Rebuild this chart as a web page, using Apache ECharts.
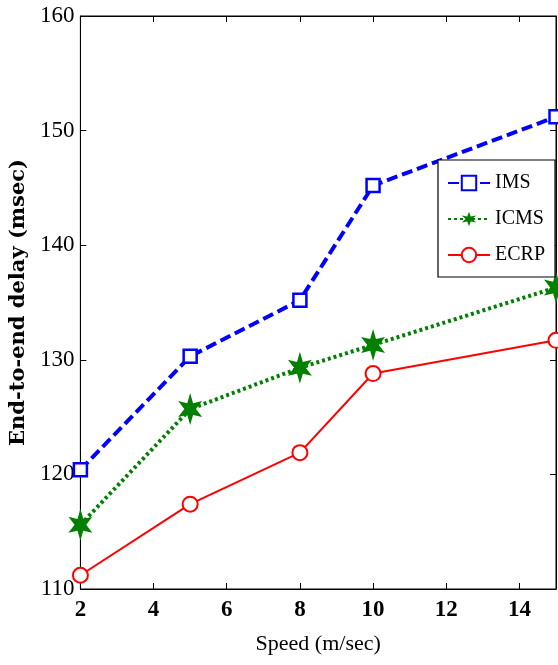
<!DOCTYPE html>
<html>
<head>
<meta charset="utf-8">
<script src="https://cdn.jsdelivr.net/npm/echarts@6/dist/echarts.min.js"></script>
<style>html,body{margin:0;padding:0;background:#fff;}#c{width:558px;height:665px;}</style>
</head>
<body>
<div id="c"></div>
<script>
const speeds = [2, 5, 8, 10, 15];
const imsDelay = [120.4, 130.3, 135.2, 145.2, 151.2];
const icmsDelay = [115.6, 125.7, 129.3, 131.3, 136.3];
const ecrpDelay = [111.2, 117.4, 121.9, 128.8, 131.7];
const xTicks = [2, 4, 6, 8, 10, 12, 14];
const yTicks = [110, 120, 130, 140, 150, 160];

function pairs(xs, ys) { return xs.map((x, i) => [x, ys[i]]); }

// hexagram symbol shape
function hexPath() {
  let p = '';
  for (let k = 0; k < 12; k++) {
    const a = (-90 + k * 30) * Math.PI / 180;
    const r = k % 2 === 0 ? 1 : 0.42;
    const x = (r * Math.cos(a) * 0.75).toFixed(3), y = (r * Math.sin(a)).toFixed(3);
    p += (k === 0 ? 'M' : 'L') + x + ' ' + y + ' ';
  }
  return 'path://' + p + 'Z';
}

const font = 'Liberation Serif';
const chart = echarts.init(document.getElementById('c'), null, {renderer: 'canvas'});
chart.setOption({
  animation: false,
  backgroundColor: '#fff',
  grid: {left: 79, right: 2, top: 16, bottom: 76, show: true, borderColor: '#000', borderWidth: 1},
  xAxis: [{
    type: 'value', min: 2, max: 15, interval: 2,
    name: 'Speed (m/sec)', nameLocation: 'middle', nameGap: 44,
    nameTextStyle: {fontFamily: font, fontSize: 22, color: '#000'},
    axisLine: {lineStyle: {color: '#000'}},
    axisTick: {inside: true, length: 6, lineStyle: {color: '#000'}},
    axisLabel: {fontFamily: font, fontSize: 23, fontWeight: 'bold', color: '#000', margin: 10, showMaxLabel: false,
      formatter: v => xTicks.includes(v) ? String(v) : ''},
    splitLine: {show: false}
  }, {
    type: 'value', min: 2, max: 15, interval: 2, position: 'top',
    axisLine: {lineStyle: {color: '#000'}},
    axisTick: {inside: true, length: 6, lineStyle: {color: '#000'}},
    axisLabel: {show: false}, splitLine: {show: false}
  }],
  yAxis: [{
    type: 'value', min: 110, max: 160, interval: 10,
    name: 'End-to-end delay (msec)', nameLocation: 'middle', nameGap: 50,
    nameTextStyle: {fontFamily: 'DejaVu Serif', fontSize: 21, fontWeight: 'bold', color: '#000'},
    axisLine: {lineStyle: {color: '#000'}},
    axisTick: {inside: true, length: 6, lineStyle: {color: '#000'}},
    axisLabel: {fontFamily: font, fontSize: 23, color: '#000', margin: 6,
      formatter: v => yTicks.includes(v) ? String(v) : ''},
    splitLine: {show: false}
  }, {
    type: 'value', min: 110, max: 160, interval: 10, position: 'right',
    axisLine: {lineStyle: {color: '#000'}},
    axisTick: {inside: true, length: 6, lineStyle: {color: '#000'}},
    axisLabel: {show: false}, splitLine: {show: false}
  }],
  legend: {
    orient: 'vertical', left: 438, top: 160,
    backgroundColor: '#fff', borderColor: '#000', borderWidth: 1.2,
    padding: [13, 10, 12, 9], itemGap: 16, itemWidth: 42, itemHeight: 18,
    textStyle: {fontFamily: font, fontSize: 20, color: '#000'},
    data: ['IMS', 'ICMS', 'ECRP']
  },
  series: [{
    name: 'IMS', type: 'line', data: pairs(speeds, imsDelay),
    symbol: 'rect', symbolSize: 13, showSymbol: true,
    lineStyle: {color: '#0000ff', width: 4, type: [11, 5]},
    itemStyle: {color: '#fff', borderColor: '#0000ff', borderWidth: 2.5},
    emphasis: {disabled: true},
    clip: false
  }, {
    name: 'ICMS', type: 'line', data: pairs(speeds, icmsDelay),
    symbol: hexPath(), symbolSize: [24, 32],
    lineStyle: {color: '#008000', width: 4, type: [3, 3]},
    itemStyle: {color: '#008000'},
    emphasis: {disabled: true},
    clip: false
  }, {
    name: 'ECRP', type: 'line', data: pairs(speeds, ecrpDelay),
    symbol: 'circle', symbolSize: 15,
    lineStyle: {color: '#ff0000', width: 2},
    itemStyle: {color: '#fff', borderColor: '#ff0000', borderWidth: 2},
    emphasis: {disabled: true},
    clip: false
  }]
});
</script>
</body>
</html>
